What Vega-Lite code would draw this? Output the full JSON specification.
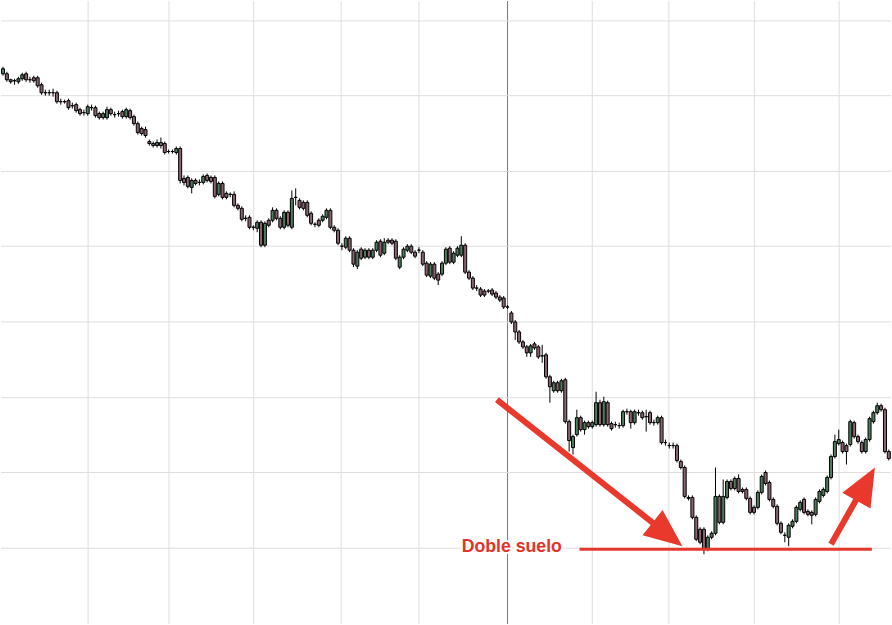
{
"$schema": "https://vega.github.io/schema/vega-lite/v6.json",
"width": 892, "height": 625,
"autosize": {"type": "fit", "contains": "padding"},
"padding": 0,
"background": "white",
"config": {"view": {"stroke": null}, "scale": {"continuousPadding": 0}},
"datasets": {
"candles": [
{"i":1,"o":552,"h":559,"l":550,"c":557},{"i":2,"o":552,"h":554,"l":544,"c":546},{"i":3,"o":546,"h":547,"l":542,"c":544},{"i":4,"o":545,"h":547,"l":541,"c":545},{"i":5,"o":544,"h":549,"l":542,"c":547},{"i":6,"o":547,"h":553,"l":545,"c":551},{"i":7,"o":552,"h":554,"l":544,"c":546},{"i":8,"o":546,"h":549,"l":543,"c":546},{"i":9,"o":548,"h":550,"l":543,"c":545},{"i":10,"o":548,"h":550,"l":538,"c":540},
{"i":11,"o":541,"h":543,"l":531,"c":533},{"i":12,"o":533,"h":536,"l":530,"c":533},{"i":13,"o":533,"h":536,"l":530,"c":533},{"i":14,"o":533,"h":537,"l":529,"c":533},{"i":15,"o":533,"h":535,"l":522,"c":524},{"i":16,"o":524,"h":527,"l":521,"c":524},{"i":17,"o":524,"h":526,"l":522,"c":524},{"i":18,"o":525,"h":527,"l":516,"c":518},{"i":19,"o":520,"h":523,"l":517,"c":520},{"i":20,"o":521,"h":523,"l":513,"c":515},
{"i":21,"o":516,"h":518,"l":510,"c":512},{"i":22,"o":513,"h":516,"l":510,"c":513},{"i":23,"o":512,"h":521,"l":510,"c":519},{"i":24,"o":518,"h":521,"l":515,"c":518},{"i":25,"o":518,"h":520,"l":508,"c":510},{"i":26,"o":512,"h":514,"l":506,"c":508},{"i":27,"o":508,"h":514,"l":506,"c":512},{"i":28,"o":508,"h":519,"l":506,"c":516},{"i":29,"o":516,"h":518,"l":510,"c":512},{"i":30,"o":511,"h":514,"l":508,"c":511},
{"i":31,"o":512,"h":515,"l":509,"c":512},{"i":32,"o":514,"h":516,"l":507,"c":509},{"i":33,"o":509,"h":518,"l":507,"c":516},{"i":34,"o":515,"h":517,"l":506,"c":508},{"i":35,"o":509,"h":511,"l":500,"c":502},{"i":36,"o":502,"h":504,"l":491,"c":493},{"i":37,"o":497,"h":499,"l":490,"c":492},{"i":38,"o":496,"h":499,"l":488,"c":490},{"i":39,"o":484,"h":486,"l":480,"c":482},{"i":40,"o":482,"h":484,"l":478,"c":480},
{"i":41,"o":480,"h":486,"l":478,"c":483},{"i":42,"o":483,"h":488,"l":477,"c":480},{"i":43,"o":482,"h":484,"l":471,"c":473},{"i":44,"o":474,"h":476,"l":472,"c":474},{"i":45,"o":474,"h":476,"l":472,"c":474},{"i":46,"o":473,"h":479,"l":471,"c":477},{"i":47,"o":477,"h":479,"l":442,"c":445},{"i":48,"o":447,"h":450,"l":440,"c":443},{"i":49,"o":448,"h":450,"l":437,"c":439},{"i":50,"o":438,"h":447,"l":432,"c":445},
{"i":51,"o":445,"h":447,"l":440,"c":442},{"i":52,"o":443,"h":446,"l":440,"c":443},{"i":53,"o":443,"h":451,"l":441,"c":449},{"i":54,"o":450,"h":452,"l":443,"c":445},{"i":55,"o":448,"h":450,"l":442,"c":444},{"i":56,"o":448,"h":450,"l":427,"c":429},{"i":57,"o":431,"h":444,"l":429,"c":442},{"i":58,"o":442,"h":444,"l":426,"c":428},{"i":59,"o":432,"h":434,"l":426,"c":428},{"i":60,"o":431,"h":433,"l":428,"c":431},
{"i":61,"o":431,"h":434,"l":418,"c":420},{"i":62,"o":420,"h":422,"l":415,"c":417},{"i":63,"o":417,"h":419,"l":404,"c":406},{"i":64,"o":407,"h":410,"l":404,"c":407},{"i":65,"o":408,"h":410,"l":396,"c":398},{"i":66,"o":398,"h":400,"l":395,"c":398},{"i":67,"o":397,"h":405,"l":393,"c":403},{"i":68,"o":403,"h":405,"l":378,"c":380},{"i":69,"o":380,"h":404,"l":378,"c":402},{"i":70,"o":405,"h":407,"l":398,"c":400},
{"i":71,"o":405,"h":418,"l":403,"c":415},{"i":72,"o":415,"h":417,"l":405,"c":407},{"i":73,"o":407,"h":409,"l":396,"c":398},{"i":74,"o":398,"h":415,"l":396,"c":413},{"i":75,"o":413,"h":415,"l":398,"c":400},{"i":76,"o":398,"h":435,"l":396,"c":427},{"i":77,"o":428,"h":437,"l":420,"c":428},{"i":78,"o":425,"h":427,"l":416,"c":418},{"i":79,"o":423,"h":425,"l":415,"c":417},{"i":80,"o":423,"h":425,"l":408,"c":410},
{"i":81,"o":412,"h":414,"l":400,"c":402},{"i":82,"o":401,"h":403,"l":398,"c":401},{"i":83,"o":405,"h":407,"l":398,"c":400},{"i":84,"o":405,"h":411,"l":403,"c":409},{"i":85,"o":408,"h":417,"l":406,"c":415},{"i":86,"o":415,"h":417,"l":396,"c":398},{"i":87,"o":398,"h":400,"l":393,"c":395},{"i":88,"o":395,"h":397,"l":380,"c":382},{"i":89,"o":379,"h":382,"l":375,"c":379},{"i":90,"o":378,"h":389,"l":376,"c":387},
{"i":91,"o":387,"h":389,"l":373,"c":375},{"i":92,"o":375,"h":377,"l":358,"c":361},{"i":93,"o":359,"h":375,"l":356,"c":373},{"i":94,"o":376,"h":378,"l":365,"c":367},{"i":95,"o":368,"h":377,"l":366,"c":375},{"i":96,"o":375,"h":377,"l":366,"c":368},{"i":97,"o":368,"h":377,"l":366,"c":375},{"i":98,"o":375,"h":385,"l":373,"c":383},{"i":99,"o":384,"h":386,"l":368,"c":370},{"i":100,"o":372,"h":387,"l":370,"c":383},
{"i":101,"o":385,"h":387,"l":381,"c":383},{"i":102,"o":385,"h":387,"l":380,"c":382},{"i":103,"o":384,"h":386,"l":365,"c":367},{"i":104,"o":358,"h":370,"l":356,"c":368},{"i":105,"o":368,"h":378,"l":366,"c":376},{"i":106,"o":375,"h":381,"l":373,"c":379},{"i":107,"o":379,"h":381,"l":371,"c":373},{"i":108,"o":373,"h":375,"l":367,"c":369},{"i":109,"o":375,"h":378,"l":372,"c":375},{"i":110,"o":373,"h":375,"l":359,"c":361},
{"i":111,"o":362,"h":364,"l":348,"c":350},{"i":112,"o":349,"h":363,"l":347,"c":361},{"i":113,"o":361,"h":363,"l":345,"c":347},{"i":114,"o":351,"h":353,"l":340,"c":345},{"i":115,"o":351,"h":364,"l":349,"c":362},{"i":116,"o":362,"h":378,"l":360,"c":376},{"i":117,"o":377,"h":379,"l":361,"c":363},{"i":118,"o":363,"h":374,"l":361,"c":372},{"i":119,"o":370,"h":379,"l":368,"c":377},{"i":120,"o":370,"h":389,"l":368,"c":380},
{"i":121,"o":380,"h":382,"l":351,"c":353},{"i":122,"o":353,"h":355,"l":345,"c":347},{"i":123,"o":347,"h":349,"l":335,"c":337},{"i":124,"o":337,"h":340,"l":334,"c":337},{"i":125,"o":336,"h":338,"l":328,"c":330},{"i":126,"o":334,"h":336,"l":328,"c":330},{"i":127,"o":334,"h":336,"l":332,"c":334},{"i":128,"o":335,"h":337,"l":329,"c":331},{"i":129,"o":332,"h":334,"l":326,"c":328},{"i":130,"o":328,"h":330,"l":323,"c":325},
{"i":131,"o":327,"h":329,"l":316,"c":318},{"i":132,"o":318,"h":320,"l":316,"c":318},{"i":133,"o":312,"h":314,"l":301,"c":303},{"i":134,"o":303,"h":305,"l":285,"c":293},{"i":135,"o":293,"h":295,"l":281,"c":283},{"i":136,"o":283,"h":285,"l":276,"c":278},{"i":137,"o":278,"h":280,"l":268,"c":272},{"i":138,"o":272,"h":281,"l":268,"c":279},{"i":139,"o":281,"h":283,"l":275,"c":277},{"i":140,"o":278,"h":280,"l":266,"c":268},
{"i":141,"o":269,"h":280,"l":262,"c":269},{"i":142,"o":270,"h":272,"l":246,"c":248},{"i":143,"o":248,"h":250,"l":222,"c":238},{"i":144,"o":234,"h":244,"l":232,"c":242},{"i":145,"o":242,"h":244,"l":232,"c":234},{"i":146,"o":234,"h":246,"l":232,"c":244},{"i":147,"o":245,"h":247,"l":201,"c":203},{"i":148,"o":203,"h":205,"l":173,"c":184},{"i":149,"o":177,"h":190,"l":170,"c":188},{"i":150,"o":190,"h":215,"l":188,"c":207},
{"i":151,"o":207,"h":209,"l":193,"c":195},{"i":152,"o":195,"h":204,"l":190,"c":202},{"i":153,"o":202,"h":204,"l":196,"c":198},{"i":154,"o":198,"h":204,"l":196,"c":202},{"i":155,"o":200,"h":233,"l":198,"c":222},{"i":156,"o":222,"h":225,"l":198,"c":200},{"i":157,"o":200,"h":228,"l":198,"c":223},{"i":158,"o":222,"h":224,"l":198,"c":200},{"i":159,"o":201,"h":203,"l":194,"c":196},{"i":160,"o":200,"h":203,"l":197,"c":200},
{"i":161,"o":199,"h":202,"l":196,"c":199},{"i":162,"o":199,"h":215,"l":197,"c":213},{"i":163,"o":213,"h":216,"l":210,"c":213},{"i":164,"o":213,"h":215,"l":196,"c":202},{"i":165,"o":202,"h":215,"l":200,"c":213},{"i":166,"o":212,"h":215,"l":209,"c":212},{"i":167,"o":212,"h":214,"l":205,"c":207},{"i":168,"o":208,"h":215,"l":193,"c":208},{"i":169,"o":212,"h":214,"l":200,"c":202},{"i":170,"o":202,"h":205,"l":199,"c":202},
{"i":171,"o":202,"h":209,"l":200,"c":207},{"i":172,"o":207,"h":209,"l":180,"c":182},{"i":173,"o":182,"h":185,"l":179,"c":182},{"i":174,"o":179,"h":182,"l":176,"c":179},{"i":175,"o":179,"h":182,"l":176,"c":179},{"i":176,"o":179,"h":181,"l":162,"c":164},{"i":177,"o":163,"h":165,"l":155,"c":157},{"i":178,"o":157,"h":159,"l":126,"c":128},{"i":179,"o":127,"h":129,"l":124,"c":126},{"i":180,"o":127,"h":129,"l":105,"c":107},
{"i":181,"o":107,"h":109,"l":83,"c":85},{"i":182,"o":95,"h":97,"l":80,"c":82},{"i":183,"o":95,"h":97,"l":70,"c":75},{"i":184,"o":75,"h":89,"l":73,"c":87},{"i":185,"o":87,"h":93,"l":85,"c":91},{"i":186,"o":91,"h":157,"l":89,"c":128},{"i":187,"o":128,"h":130,"l":100,"c":102},{"i":188,"o":102,"h":145,"l":100,"c":128},{"i":189,"o":127,"h":145,"l":125,"c":143},{"i":190,"o":143,"h":145,"l":134,"c":136},
{"i":191,"o":136,"h":148,"l":134,"c":146},{"i":192,"o":146,"h":150,"l":131,"c":133},{"i":193,"o":135,"h":137,"l":131,"c":133},{"i":194,"o":135,"h":137,"l":124,"c":126},{"i":195,"o":126,"h":128,"l":110,"c":112},{"i":196,"o":117,"h":119,"l":110,"c":112},{"i":197,"o":117,"h":134,"l":115,"c":132},{"i":198,"o":132,"h":150,"l":130,"c":148},{"i":199,"o":152,"h":154,"l":139,"c":141},{"i":200,"o":142,"h":144,"l":123,"c":125},
{"i":201,"o":125,"h":127,"l":116,"c":118},{"i":202,"o":118,"h":120,"l":99,"c":101},{"i":203,"o":101,"h":103,"l":90,"c":92},{"i":204,"o":89,"h":92,"l":82,"c":89},{"i":205,"o":87,"h":101,"l":78,"c":99},{"i":206,"o":98,"h":105,"l":96,"c":103},{"i":207,"o":103,"h":119,"l":101,"c":117},{"i":208,"o":115,"h":124,"l":113,"c":122},{"i":209,"o":125,"h":127,"l":110,"c":112},{"i":210,"o":113,"h":115,"l":108,"c":110},
{"i":211,"o":112,"h":114,"l":100,"c":109},{"i":212,"o":110,"h":127,"l":108,"c":125},{"i":213,"o":123,"h":135,"l":121,"c":133},{"i":214,"o":129,"h":137,"l":127,"c":135},{"i":215,"o":133,"h":149,"l":131,"c":147},{"i":216,"o":147,"h":170,"l":145,"c":168},{"i":217,"o":168,"h":190,"l":166,"c":183},{"i":218,"o":181,"h":195,"l":179,"c":185},{"i":219,"o":182,"h":184,"l":171,"c":173},{"i":220,"o":179,"h":181,"l":160,"c":173},
{"i":221,"o":180,"h":205,"l":178,"c":203},{"i":222,"o":202,"h":204,"l":186,"c":188},{"i":223,"o":188,"h":190,"l":181,"c":183},{"i":224,"o":182,"h":184,"l":171,"c":173},{"i":225,"o":173,"h":187,"l":171,"c":185},{"i":226,"o":185,"h":208,"l":183,"c":206},{"i":227,"o":203,"h":214,"l":201,"c":212},{"i":228,"o":212,"h":222,"l":210,"c":219},{"i":229,"o":219,"h":221,"l":213,"c":215},{"i":230,"o":215,"h":217,"l":171,"c":173},
{"i":231,"o":173,"h":175,"l":164,"c":166}
],
"vgrid": [
{"t":23.1,"kind":"month"},{"t":44.1,"kind":"month"},{"t":66.1,"kind":"month"},{"t":88.8,"kind":"month"},{"t":109.0,"kind":"month"},{"t":154.0,"kind":"month"},{"t":173.9,"kind":"month"},{"t":196.1,"kind":"month"},{"t":218.1,"kind":"month"},{"t":132.0,"kind":"marker"}
],
"hgrid": [{"p":76},{"p":152},{"p":227},{"p":303},{"p":379},{"p":454},{"p":530},{"p":605}],
"support": [{"a":150.7,"b":226.6,"p":75}],
"arrows": [
{"name":"down","x1":129.24,"p1":225,"x2":172.2,"p2":94,"tx":177.4,"tp":78},
{"name":"up","x1":216.0,"p1":80,"x2":224.05,"p2":135,"tx":227.4,"tp":157}
],
"label": [{"x":133.1,"p":72,"text":"Doble suelo"}]
},
"layer": [
{
"data": {"name": "vgrid"},
"mark": {"type": "rule", "strokeWidth": 1},
"encoding": {
"x": {"field": "t", "type": "quantitative", "scale": {"domain": [0.48, 231.57], "nice": false, "zero": false, "padding": 0}, "axis": null},
"color": {"field": "kind", "type": "nominal", "scale": {"domain": ["month", "marker"], "range": ["#dedede", "#7a7a7a"]}, "legend": null}
}
},
{
"data": {"name": "hgrid"},
"mark": {"type": "rule", "strokeWidth": 1, "color": "#dedede"},
"encoding": {
"y": {"field": "p", "type": "quantitative", "scale": {"domain": [0, 625], "nice": false, "zero": false, "padding": 0}, "axis": null}
}
},
{
"data": {"name": "candles"},
"mark": {"type": "rule", "color": "#000000", "strokeWidth": 1},
"encoding": {
"x": {"field": "i", "type": "quantitative", "scale": {"domain": [0.48, 231.57], "nice": false, "zero": false, "padding": 0}, "axis": null},
"y": {"field": "l", "type": "quantitative", "scale": {"domain": [0, 625], "nice": false, "zero": false, "padding": 0}, "axis": null},
"y2": {"field": "h"}
}
},
{
"data": {"name": "candles"},
"mark": {"type": "bar", "width": 3, "stroke": "#000000", "strokeWidth": 1},
"encoding": {
"x": {"field": "i", "type": "quantitative", "scale": {"domain": [0.48, 231.57], "nice": false, "zero": false, "padding": 0}, "axis": null},
"y": {"field": "o", "type": "quantitative", "scale": {"domain": [0, 625], "nice": false, "zero": false, "padding": 0}, "axis": null},
"y2": {"field": "c"},
"fill": {"condition": {"test": "datum.c > datum.o", "value": "#4f7d5c"}, "value": "#8a6570"}
}
},
{
"data": {"name": "support"},
"mark": {"type": "rule", "color": "#e5372b", "strokeWidth": 3},
"encoding": {
"x": {"field": "a", "type": "quantitative", "scale": {"domain": [0.48, 231.57], "nice": false, "zero": false, "padding": 0}, "axis": null},
"x2": {"field": "b"},
"y": {"field": "p", "type": "quantitative", "scale": {"domain": [0, 625], "nice": false, "zero": false, "padding": 0}, "axis": null}
}
},
{
"data": {"name": "arrows"},
"mark": {"type": "rule", "color": "#e8392c", "strokeWidth": 6, "strokeCap": "butt"},
"encoding": {
"x": {"field": "x1", "type": "quantitative", "scale": {"domain": [0.48, 231.57], "nice": false, "zero": false, "padding": 0}, "axis": null},
"x2": {"field": "x2"},
"y": {"field": "p1", "type": "quantitative", "scale": {"domain": [0, 625], "nice": false, "zero": false, "padding": 0}, "axis": null},
"y2": {"field": "p2"}
}
},
{
"data": {"name": "arrows"},
"transform": [{"filter": "datum.name === 'down'"}],
"mark": {"type": "point", "shape": "M0,0L0.85,2L-0.85,2Z", "filled": true, "opacity": 1, "color": "#e8392c", "size": 1444, "angle": 128.3},
"encoding": {
"x": {"field": "tx", "type": "quantitative", "scale": {"domain": [0.48, 231.57], "nice": false, "zero": false, "padding": 0}, "axis": null},
"y": {"field": "tp", "type": "quantitative", "scale": {"domain": [0, 625], "nice": false, "zero": false, "padding": 0}, "axis": null}
}
},
{
"data": {"name": "arrows"},
"transform": [{"filter": "datum.name === 'up'"}],
"mark": {"type": "point", "shape": "M0,0L0.85,2L-0.85,2Z", "filled": true, "opacity": 1, "color": "#e8392c", "size": 1444, "angle": 29.2},
"encoding": {
"x": {"field": "tx", "type": "quantitative", "scale": {"domain": [0.48, 231.57], "nice": false, "zero": false, "padding": 0}, "axis": null},
"y": {"field": "tp", "type": "quantitative", "scale": {"domain": [0, 625], "nice": false, "zero": false, "padding": 0}, "axis": null}
}
},
{
"data": {"name": "label"},
"mark": {"type": "text", "font": "Liberation Sans", "fontWeight": "bold", "fontSize": 17.7, "align": "center", "baseline": "alphabetic", "stroke": "#ffffff", "strokeWidth": 4, "strokeJoin": "round", "fill": "#ffffff"},
"encoding": {
"x": {"field": "x", "type": "quantitative", "scale": {"domain": [0.48, 231.57], "nice": false, "zero": false, "padding": 0}, "axis": null},
"y": {"field": "p", "type": "quantitative", "scale": {"domain": [0, 625], "nice": false, "zero": false, "padding": 0}, "axis": null},
"text": {"field": "text"}
}
},
{
"data": {"name": "label"},
"mark": {"type": "text", "font": "Liberation Sans", "fontWeight": "bold", "fontSize": 17.7, "align": "center", "baseline": "alphabetic", "fill": "#e3342a"},
"encoding": {
"x": {"field": "x", "type": "quantitative", "scale": {"domain": [0.48, 231.57], "nice": false, "zero": false, "padding": 0}, "axis": null},
"y": {"field": "p", "type": "quantitative", "scale": {"domain": [0, 625], "nice": false, "zero": false, "padding": 0}, "axis": null},
"text": {"field": "text"}
}
}
]
}
